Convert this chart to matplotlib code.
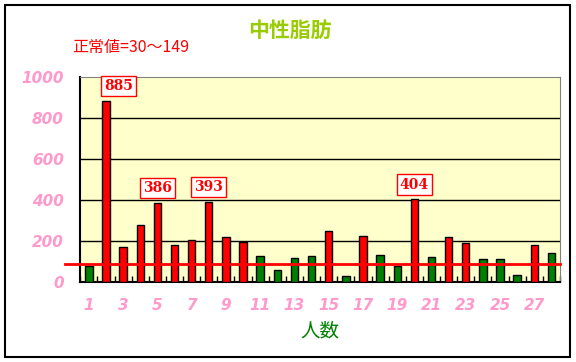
import matplotlib
matplotlib.use('Agg')
import matplotlib.pyplot as plt
from matplotlib.patches import Rectangle

plt.rcParams['font.family'] = ['Noto Sans CJK JP', 'DejaVu Sans']

# データ
persons = list(range(1, 29))
values = [78, 885, 170, 278, 386, 180, 205, 393, 219, 195, 127, 58, 117, 127,
          248, 29, 224, 131, 78, 404, 122, 219, 190, 112, 112, 34, 180, 141]
labelled = [2, 5, 8, 20]
upper = 149
line_level = 90
title = '中性脂肪'
note = '正常値=30～149'
xlabel = '人数'
xticks = list(range(1, 28, 2))
yticks = [0, 200, 400, 600, 800, 1000]

colors = ['#FF0000' if v > upper else '#008000' for v in values]

fig = plt.figure(figsize=(5.76, 3.62), dpi=100)
ax = fig.add_axes([0.1394, 0.2202, 0.8328, 0.5671])
ax.set_facecolor('#FFFFCC')

ax.bar(persons, values, width=0.43, color=colors, edgecolor='black', linewidth=1, zorder=3)

ax.set_xlim(0.5, 28.5)
ax.set_ylim(0, 1000)
for y in yticks[1:-1]:
    ax.axhline(y, color='black', linewidth=1, zorder=1)

# 赤い線
ax.axhline(line_level, xmin=-0.031, xmax=1.0, color='#FF0000', linewidth=2,
           clip_on=False, zorder=4)

# 値ラベル
for p in labelled:
    v = values[p - 1]
    dx = 0.75 if p == 2 else 0
    ax.text(p + dx, v + 38, str(v), ha='center', va='bottom', color='#FF0000',
            fontsize=10, fontweight='bold', family='DejaVu Serif',
            bbox=dict(boxstyle='square,pad=0.22', fc='white', ec='#FF0000', lw=1),
            zorder=5)

ax.set_xticks(xticks)
ax.set_xticklabels([str(t) for t in xticks], color='#FF99CC', fontsize=11,
                   style='italic', fontweight='bold', family='DejaVu Sans')
ax.set_xticks([i + 0.5 for i in range(0, 29)], minor=True)
ax.tick_params(axis='x', which='major', length=0, pad=11)
ax.tick_params(axis='x', which='minor', direction='in', length=4, width=1)
ax.set_yticks(yticks)
ax.set_yticklabels([str(t) for t in yticks], color='#FF99CC', fontsize=11,
                   style='italic', fontweight='bold', family='DejaVu Sans')
ax.tick_params(axis='y', length=0, pad=12)

for s in ['top', 'right']:
    ax.spines[s].set_color('#808080')
for s in ['left', 'bottom']:
    ax.spines[s].set_color('black')
    ax.spines[s].set_linewidth(1.5)

ax.set_xlabel(xlabel, color='#008000', fontsize=14, labelpad=6)

fig.text(0.503, 0.917, title, color='#99CC00', fontsize=15, fontweight='bold',
         ha='center', va='center')
fig.text(0.125, 0.868, note, color='#FF0000', fontsize=11.5, ha='left', va='center')

fig.patches.append(Rectangle((5 / 576, 5 / 362), 565 / 576, 352 / 362,
                             transform=fig.transFigure, fill=False,
                             edgecolor='black', linewidth=1.5))

plt.savefig('out.png', dpi=100)
